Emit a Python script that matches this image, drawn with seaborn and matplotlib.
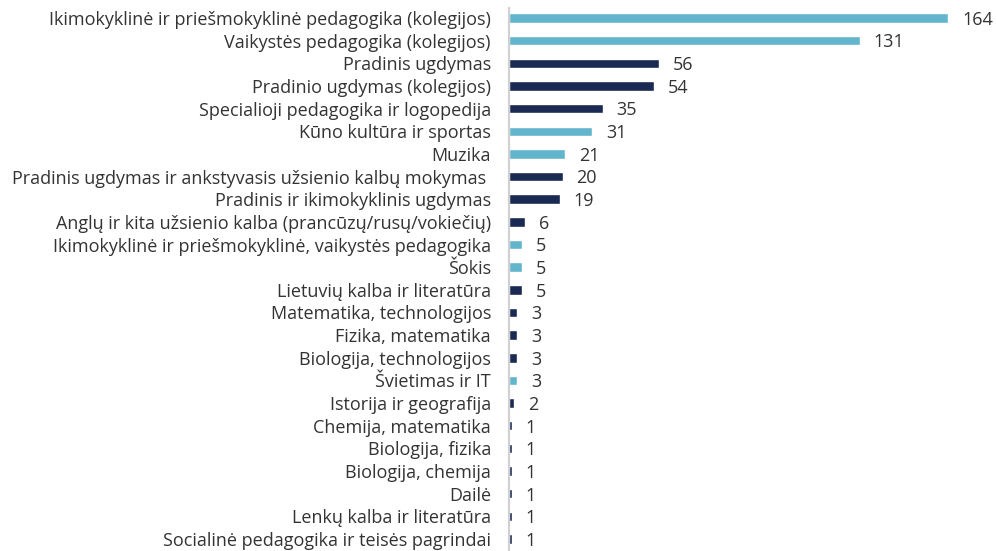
import matplotlib
matplotlib.use('Agg')
import matplotlib.pyplot as plt
import seaborn as sns
import pandas as pd

programs = [
    "Ikimokyklinė ir priešmokyklinė pedagogika (kolegijos)",
    "Vaikystės pedagogika (kolegijos)",
    "Pradinis ugdymas",
    "Pradinio ugdymas (kolegijos)",
    "Specialioji pedagogika ir logopedija",
    "Kūno kultūra ir sportas",
    "Muzika",
    "Pradinis ugdymas ir ankstyvasis užsienio kalbų mokymas ",
    "Pradinis ir ikimokyklinis ugdymas",
    "Anglų ir kita užsienio kalba (prancūzų/rusų/vokiečių)",
    "Ikimokyklinė ir priešmokyklinė, vaikystės pedagogika",
    "Šokis",
    "Lietuvių kalba ir literatūra",
    "Matematika, technologijos",
    "Fizika, matematika",
    "Biologija, technologijos",
    "Švietimas ir IT",
    "Istorija ir geografija",
    "Chemija, matematika",
    "Biologija, fizika",
    "Biologija, chemija",
    "Dailė",
    "Lenkų kalba ir literatūra",
    "Socialinė pedagogika ir teisės pagrindai",
]
counts = [164, 131, 56, 54, 35, 31, 21, 20, 19, 6, 5, 5, 5, 3, 3, 3, 3, 2, 1, 1, 1, 1, 1, 1]
groups = ["a", "a", "b", "b", "b", "a", "a", "b", "b", "b", "a", "a", "b",
          "b", "b", "b", "a", "b", "b", "b", "b", "b", "b", "b"]

palette = {"a": "#62B5CD", "b": "#1B2A52"}

df = pd.DataFrame({"program": programs, "count": counts, "group": groups})

sns.set_style("white")
plt.rcParams['font.family'] = ['Open Sans', 'DejaVu Sans']

fig = plt.figure(figsize=(9.96, 5.51), dpi=100)
ax = fig.add_axes([0.511, 0.0, 0.489, 1.0])

sns.barplot(data=df, y="program", x="count", hue="group", palette=palette,
            dodge=False, orient="h", width=0.42, saturation=1, legend=False, ax=ax)

for i, v in enumerate(counts):
    ax.text(v + 5.2, i + 0.08, str(v), va="center", ha="left", fontsize=13, color="#333333")

# leave a bit of room below the last row so its label is not clipped
ax.set_xlim(0, 181.9)
ax.set_ylim(23.53, -0.795)
ax.set_xlabel("")
ax.set_ylabel("")
ax.set_xticks([])
ax.tick_params(axis="y", length=0, pad=13, labelsize=13, labelcolor="#333333")
for s in ["top", "right", "bottom"]:
    ax.spines[s].set_visible(False)
ax.spines["left"].set_color("#D0D0D0")
ax.spines["left"].set_linewidth(1.5)
ax.spines["left"].set_bounds(23.53, -0.45)

fig.savefig("out.png", dpi=100)
